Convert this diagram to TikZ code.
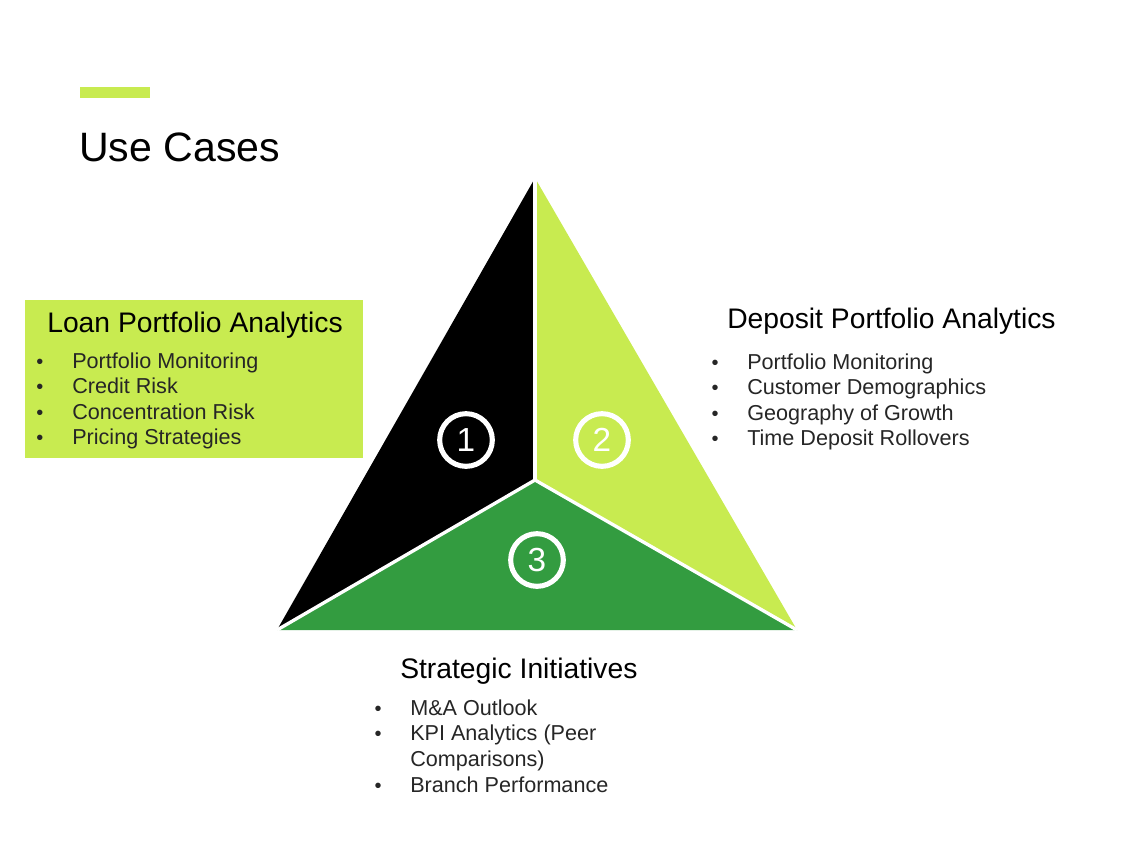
\documentclass[tikz,border=0pt]{standalone}
\usepackage{fontspec}
\setmainfont{Liberation Sans}
\definecolor{lime}{HTML}{C8EB50}
\definecolor{dgreen}{HTML}{339C40}
\begin{document}
\begin{tikzpicture}[x=0.75pt,y=-0.75pt,
  head/.style={anchor=base west,inner sep=0pt,font=\fontsize{21.2pt}{25pt}\selectfont},
  item/.style={anchor=base west,inner sep=0pt,font=\fontsize{16.2pt}{20pt}\selectfont,text=black!85},
  bul/.style={anchor=base,inner sep=0pt,font=\fontsize{15pt}{18pt}\selectfont,text=black!85},
  num/.style={circle,draw=white,line width=3.8pt,minimum size=39.5pt,inner sep=0pt,text=white,font=\fontsize{25pt}{28pt}\selectfont},
  part/.style={draw=white,line width=2.2pt,line join=miter}]
\useasboundingbox (0,0) rectangle (1144,846);
\fill[white] (0,0) rectangle (1144,846);
% title
\fill[lime] (80,87) rectangle (150,98);
\node[anchor=base west,inner sep=0pt,font=\fontsize{30.8pt}{36pt}\selectfont] (title) at (79,161) {Use Cases};
% triangle
\coordinate (A) at (535,178);
\coordinate (L) at (277,630);
\coordinate (R) at (797,630);
\coordinate (C) at (535,480);
\fill[black] (A) -- (C) -- (L) -- cycle;
\fill[lime] (A) -- (R) -- (C) -- cycle;
\fill[dgreen] (L) -- (C) -- (R) -- cycle;
\draw[white,line width=2.5pt,line cap=butt] (A) -- (C);
\draw[white,line width=2.5pt] (L) -- (C) -- (R);
\node[num] (n1) at (466,440) {1};
\node[num] (n2) at (602,440) {2};
\node[num] (n3) at (537,560) {3};
% loan box
\fill[lime] (25,300) rectangle (363,458);
\node[head,anchor=base] (loan) at (195,332) {Loan Portfolio Analytics};
\foreach \t/\y in {Portfolio Monitoring/368,Credit Risk/393,Concentration Risk/419,Pricing Strategies/444}{
  \node[bul] at (40,\y) {•};
  \node[item] at (72,\y) {\t};
}
% deposit
\node[head] (dep) at (727,328) {Deposit Portfolio Analytics};
\foreach \t/\y in {Portfolio Monitoring/369,Customer Demographics/394,Geography of Growth/420,Time Deposit Rollovers/445}{
  \node[bul] at (715,\y) {•};
  \node[item] at (747,\y) {\t};
}
% strategic
\node[head] (str) at (400,678) {Strategic Initiatives};
\foreach \t/\y in {M\&A Outlook/715,KPI Analytics (Peer/740,Branch Performance/792}{
  \node[bul] at (378,\y) {•};
  \node[item] at (410,\y) {\t};
}
\node[item] at (410,766) {Comparisons)};
\end{tikzpicture}
\end{document}
